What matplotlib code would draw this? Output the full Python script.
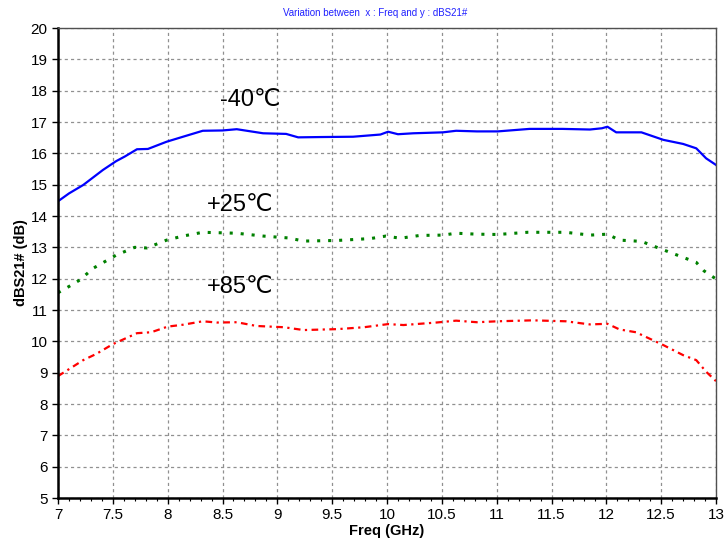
import matplotlib
matplotlib.use("Agg")
import matplotlib.pyplot as plt
from matplotlib.ticker import MultipleLocator

plt.rcParams['font.family'] = ['Liberation Sans', 'DejaVu Sans']

freq_m40 = [7.0, 7.1, 7.23, 7.41, 7.53, 7.61, 7.72, 7.82, 7.99, 8.14, 8.32, 8.5, 8.63, 8.87,
            9.08, 9.19, 9.4, 9.69, 9.94, 10.01, 10.1, 10.24, 10.51, 10.63, 10.82, 11.01, 11.3,
            11.6, 11.85, 11.96, 12.01, 12.09, 12.32, 12.52, 12.7, 12.82, 12.91, 13.0]
s21_m40 = [14.47, 14.72, 14.99, 15.47, 15.75, 15.90, 16.13, 16.14, 16.37, 16.53, 16.72, 16.73,
           16.77, 16.64, 16.62, 16.51, 16.52, 16.53, 16.60, 16.69, 16.61, 16.64, 16.67, 16.72,
           16.70, 16.70, 16.78, 16.78, 16.76, 16.80, 16.85, 16.67, 16.67, 16.43, 16.30, 16.16,
           15.84, 15.63]

freq_p25 = [7.0, 7.1, 7.2, 7.32, 7.53, 7.70, 7.81, 7.99, 8.14, 8.32, 8.63, 8.87, 9.1, 9.24,
            9.55, 9.85, 9.99, 10.12, 10.3, 10.51, 10.63, 10.82, 11.01, 11.28, 11.63, 11.85,
            12.01, 12.12, 12.32, 12.46, 12.70, 12.82, 12.89, 13.0]
s21_p25 = [11.55, 11.75, 11.96, 12.33, 12.75, 13.0, 12.98, 13.23, 13.36, 13.48, 13.45, 13.36,
           13.30, 13.20, 13.22, 13.28, 13.36, 13.29, 13.38, 13.39, 13.45, 13.42, 13.41, 13.48,
           13.48, 13.39, 13.42, 13.23, 13.19, 13.0, 12.68, 12.52, 12.25, 11.99]

freq_p85 = [7.0, 7.23, 7.35, 7.50, 7.72, 7.85, 8.0, 8.14, 8.32, 8.45, 8.63, 8.81, 9.06, 9.24,
            9.55, 9.79, 10.01, 10.15, 10.45, 10.63, 10.82, 11.01, 11.33, 11.63, 11.85, 12.01,
            12.12, 12.27, 12.52, 12.70, 12.82, 12.91, 13.0]
s21_p85 = [8.89, 9.40, 9.60, 9.91, 10.26, 10.29, 10.47, 10.53, 10.64, 10.60, 10.61, 10.49,
           10.45, 10.36, 10.39, 10.45, 10.55, 10.52, 10.60, 10.66, 10.61, 10.64, 10.67, 10.64,
           10.54, 10.56, 10.38, 10.29, 9.88, 9.56, 9.40, 9.03, 8.73]

labels = ["-40\u2103", "+25\u2103", "+85\u2103"]
label_pos = [(8.48, 17.7), (8.36, 14.35), (8.36, 11.73)]
x_ticks = [7, 7.5, 8, 8.5, 9, 9.5, 10, 10.5, 11, 11.5, 12, 12.5, 13]
x_ticklabels = ["7", "7.5", "8", "8.5", "9", "9.5", "10", "10.5", "11", "11.5", "12", "12.5", "13"]
y_ticks = list(range(5, 21))

fig = plt.figure(figsize=(7.28, 5.47), dpi=100)
ax = fig.add_axes([58/728, 1-498/547, (716-58)/728, (498-28)/547])

ax.plot(freq_m40, s21_m40, color='#0000ff', lw=1.6, ls='-')
ax.plot(freq_p25, s21_p25, color='#008000', lw=2.2, ls=(0, (1, 2.6)))
ax.plot(freq_p85, s21_p85, color='#ff0000', lw=1.6, ls=(0, (3, 2, 1, 2)))

for t, (x, y) in zip(labels, label_pos):
    ax.text(x, y, t, fontsize=17, ha='left', va='center', color='black')

ax.set_xlim(7, 13)
ax.set_ylim(5, 20)
ax.set_xticks(x_ticks)
ax.set_xticklabels(x_ticklabels)
ax.set_yticks(y_ticks)
ax.xaxis.set_minor_locator(MultipleLocator(0.1))
ax.tick_params(axis='both', which='major', labelsize=11, direction='out', length=4, width=1)
ax.tick_params(axis='x', which='minor', direction='out', length=2.5, width=0.8)
ax.tick_params(axis='x', pad=3)

ax.grid(True, which='major', color='#909090', ls=(0, (2.5, 2.5)), lw=0.9)

for s in ['left', 'bottom']:
    ax.spines[s].set_linewidth(1.8)
    ax.spines[s].set_color('black')
for s in ['top', 'right']:
    ax.spines[s].set_linewidth(1.0)
    ax.spines[s].set_color('#505050')

ax.set_xlabel("Freq (GHz)", fontsize=10.5, fontweight='bold', labelpad=2)
ax.set_ylabel("dBS21# (dB)", fontsize=10.5, fontweight='bold', labelpad=2)

fig.text(375/728, 1-13/547, "Variation between  x : Freq and y : dBS21#", color='#2020ff',
         fontsize=7, ha='center', va='center')

fig.savefig("out.png", dpi=100)
